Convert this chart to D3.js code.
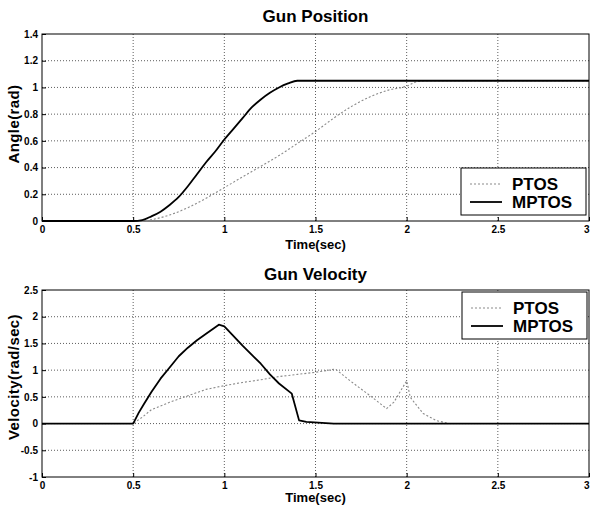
<!DOCTYPE html>
<html>
<head>
<meta charset="utf-8">
<script src="https://cdn.jsdelivr.net/npm/d3@7"></script>
<style>
  html, body { margin: 0; padding: 0; background: #fff; }
  svg { display: block; font-family: "Liberation Sans", Arial, sans-serif; }
  .tick text { font-size: 10px; font-weight: bold; fill: #000; }
  .grid line { stroke: #333; stroke-width: 0.8; stroke-dasharray: 1,2; }
  .title { font-size: 17px; font-weight: bold; }
  .axlabel { font-size: 13px; font-weight: bold; }
  .ylabel { font-size: 15px; font-weight: bold; letter-spacing: 0.4px; }
  .leg text { font-size: 17px; font-weight: bold; }
</style>
</head>
<body>
<svg id="chart" width="590" height="510"></svg>
<script>
// ---- data ----
const seriesNames = ["PTOS", "MPTOS"];
const xTicks = [0, 0.5, 1, 1.5, 2, 2.5, 3];
const posTicks = [0, 0.2, 0.4, 0.6, 0.8, 1, 1.2, 1.4];
const velTicks = [-1, -0.5, 0, 0.5, 1, 1.5, 2, 2.5];

// gun position (rad)
const posMptosT = [0, 0.5, 0.55, 0.6, 0.65, 0.7, 0.75, 0.8, 0.85, 0.9, 0.95, 1.0, 1.05, 1.1, 1.15, 1.2, 1.25, 1.3, 1.35, 1.4, 1.45, 3];
const posMptos  = [0, 0, 0.007, 0.035, 0.07, 0.12, 0.18, 0.26, 0.35, 0.44, 0.52, 0.61, 0.69, 0.77, 0.85, 0.91, 0.96, 1.0, 1.03, 1.05, 1.05, 1.05];
const posPtosT  = [0, 0.5, 0.55, 0.6, 0.7, 0.8, 0.9, 1.0, 1.1, 1.2, 1.3, 1.4, 1.5, 1.6, 1.7, 1.8, 1.9, 2.0, 2.05, 2.1, 3];
const posPtos   = [0, 0, 0, 0.01, 0.045, 0.1, 0.17, 0.25, 0.33, 0.41, 0.49, 0.58, 0.67, 0.77, 0.86, 0.93, 0.98, 1.01, 1.04, 1.05, 1.05];

// gun velocity (rad/sec)
const velMptosT = [0, 0.5, 0.53, 0.56, 0.6, 0.65, 0.7, 0.75, 0.8, 0.85, 0.9, 0.97, 1.0, 1.1, 1.2, 1.25, 1.3, 1.37, 1.41, 1.45, 1.6, 3];
const velMptos  = [0, 0, 0.2, 0.37, 0.59, 0.84, 1.05, 1.26, 1.42, 1.56, 1.68, 1.85, 1.82, 1.46, 1.12, 0.92, 0.75, 0.56, 0.06, 0.03, 0, 0];
const velPtosT  = [0, 0.5, 0.55, 0.6, 0.7, 0.8, 0.9, 1.0, 1.1, 1.2, 1.3, 1.4, 1.5, 1.61, 1.69, 1.8, 1.89, 1.93, 2.0, 2.02, 2.09, 2.16, 2.23, 3];
const velPtos   = [0, 0, 0.12, 0.26, 0.4, 0.52, 0.64, 0.71, 0.77, 0.82, 0.88, 0.92, 0.96, 1.02, 0.8, 0.52, 0.28, 0.4, 0.8, 0.49, 0.19, 0.06, 0, 0];

// ---- helpers ----
const svg = d3.select("#chart");
const zip = (ts, vs) => ts.map((t, i) => [t, vs[i]]);
const fmt = (d) => String(+d.toFixed(1));
const styles = {
  PTOS: { stroke: "#8a8a8a", width: 1.1, dash: "2,2" },
  MPTOS: { stroke: "#000", width: 1.8, dash: null },
};

function panel(o) {
  const { left, right, top, bottom } = o.box;
  const x = d3.scaleLinear().domain([0, 3]).range([left, right]);
  const y = d3.scaleLinear().domain(o.yDomain).range([bottom, top]);
  const g = svg.append("g");

  // grid
  const grid = g.append("g").attr("class", "grid");
  grid.selectAll("line.v").data(xTicks.slice(1, -1)).join("line")
    .attr("x1", x).attr("x2", x).attr("y1", top).attr("y2", bottom);
  grid.selectAll("line.h").data(o.yTicks.slice(1, -1)).join("line")
    .attr("x1", left).attr("x2", right).attr("y1", y).attr("y2", y);

  // axes, ticks pointing inward like matlab
  g.append("g").attr("transform", `translate(0,${bottom})`)
    .call(d3.axisBottom(x).tickValues(xTicks).tickFormat(fmt).tickSize(-4).tickPadding(5))
    .call((a) => a.select(".domain").remove())
    .call((a) => a.selectAll(".tick:last-of-type text").attr("text-anchor", "end"));
  g.append("g").attr("transform", `translate(${left},0)`)
    .call(d3.axisLeft(y).tickValues(o.yTicks).tickFormat(fmt).tickSize(-4).tickPadding(4))
    .call((a) => a.select(".domain").remove());
  g.append("rect").attr("x", left).attr("y", top).attr("width", right - left).attr("height", bottom - top)
    .attr("fill", "none").attr("stroke", "#000").attr("stroke-width", 1);

  // series
  for (const name of seriesNames) {
    const s = styles[name];
    const line = d3.line().x((d) => x(d[0])).y((d) => y(d[1])).curve(o.curve);
    g.append("path").datum(o.series[name]).attr("d", line)
      .attr("fill", "none").attr("stroke", s.stroke).attr("stroke-width", s.width)
      .attr("stroke-dasharray", s.dash).attr("stroke-linejoin", "round");
  }

  // labels
  g.append("text").attr("class", "title").attr("x", (left + right) / 2).attr("y", o.titleY)
    .attr("text-anchor", "middle").text(o.title);
  g.append("text").attr("class", "axlabel").attr("x", (left + right) / 2).attr("y", o.xLabelY)
    .attr("text-anchor", "middle").text("Time(sec)");
  g.append("text").attr("class", "ylabel").attr("transform", `translate(19,${o.yLabelMid}) rotate(-90)`)
    .attr("text-anchor", "middle").text(o.yLabel);

  // legend
  const lg = g.append("g").attr("class", "leg").attr("transform", `translate(${o.legend[0]},${o.legend[1]})`);
  lg.append("rect").attr("width", 125).attr("height", 47).attr("fill", "#fff").attr("stroke", "#000").attr("stroke-width", 1);
  seriesNames.forEach((name, i) => {
    const s = styles[name];
    const ly = 16 + i * 18;
    lg.append("line").attr("x1", 9).attr("x2", 41).attr("y1", ly).attr("y2", ly)
      .attr("stroke", s.stroke).attr("stroke-width", s.width).attr("stroke-dasharray", s.dash);
    lg.append("text").attr("x", 51).attr("y", ly + 6).text(name);
  });
}

// ---- render ----
panel({
  box: { left: 42, right: 589, top: 34, bottom: 221 },
  yDomain: [0, 1.4], yTicks: posTicks, curve: d3.curveMonotoneX,
  title: "Gun Position", titleY: 22, xLabelY: 249, yLabel: "Angle(rad)", yLabelMid: 124,
  legend: [461, 168],
  series: { PTOS: zip(posPtosT, posPtos), MPTOS: zip(posMptosT, posMptos) },
});
panel({
  box: { left: 42, right: 589, top: 290, bottom: 477 },
  yDomain: [-1, 2.5], yTicks: velTicks, curve: d3.curveLinear,
  title: "Gun Velocity", titleY: 280, xLabelY: 502, yLabel: "Velocity(rad/sec)", yLabelMid: 377,
  legend: [462, 292],
  series: { PTOS: zip(velPtosT, velPtos), MPTOS: zip(velMptosT, velMptos) },
});
</script>
</body>
</html>
